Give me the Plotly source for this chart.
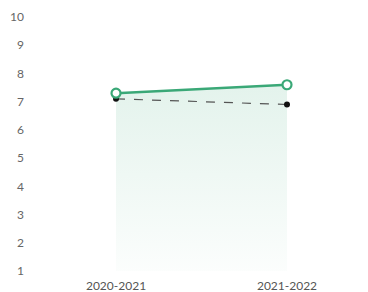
import plotly.graph_objects as go

categories = ["2020-2021", "2021-2022"]
school_values = [7.3, 7.6]
comparison_values = [7.1, 6.9]
y_ticks = [1, 2, 3, 4, 5, 6, 7, 8, 9, 10]

GREEN = "#3aa877"
FONT = "Lato, 'Open Sans', sans-serif"

fig = go.Figure()

fig.add_trace(go.Scatter(
    x=categories, y=school_values, mode="none", fill="tozeroy",
    fillgradient=dict(type="vertical",
                      colorscale=[[0, "rgba(58,168,119,0)"], [1, "rgba(58,168,119,0.14)"]]),
    hoverinfo="skip", showlegend=False,
))
fig.add_trace(go.Scatter(
    x=categories, y=comparison_values, mode="lines+markers",
    line=dict(color="#555555", width=1.2, dash="dash"),
    marker=dict(color="#111111", size=6),
    showlegend=False,
))
fig.add_trace(go.Scatter(
    x=categories, y=school_values, mode="lines+markers",
    line=dict(color=GREEN, width=2.5),
    marker=dict(color="white", size=9, line=dict(color=GREEN, width=2.2)),
    showlegend=False,
))

fig.update_layout(
    width=368, height=292,
    margin=dict(l=22, r=10, t=9, b=29),
    paper_bgcolor="white", plot_bgcolor="white",
    font=dict(family=FONT, size=12, color="#666666"),
    xaxis=dict(range=[-0.503, 1.462], showgrid=False, zeroline=False, showline=False,
               automargin=False, ticks="", ticklabelstandoff=6,
               tickfont=dict(size=12, color="#555555")),
    yaxis=dict(range=[1, 10], tickvals=y_ticks, showgrid=False, zeroline=False,
               automargin=False, showline=False, ticks="", ticklabelstandoff=5),
)

fig.write_html("out.html")
